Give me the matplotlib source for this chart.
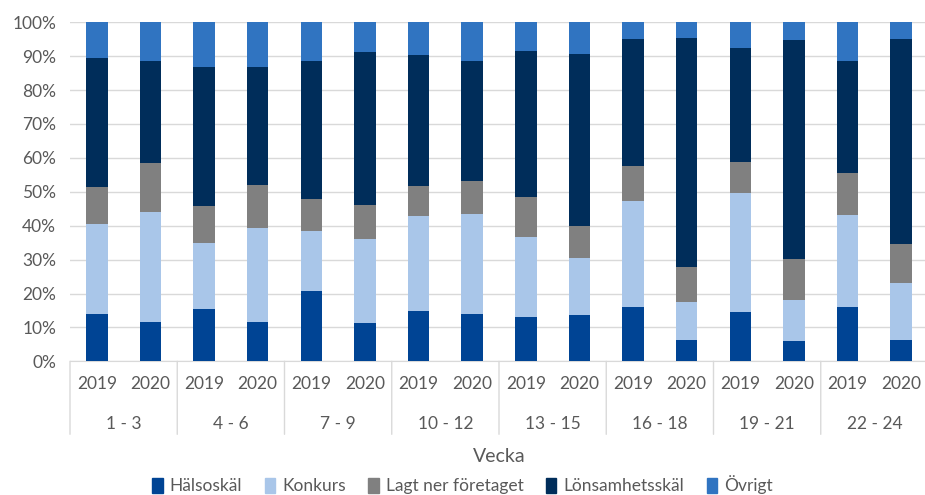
import numpy as np
import matplotlib
matplotlib.use('agg')
import matplotlib.pyplot as plt
from matplotlib.patches import Patch

weeks = ['1 - 3', '4 - 6', '7 - 9', '10 - 12', '13 - 15', '16 - 18', '19 - 21', '22 - 24']
years = ['2019', '2020']
series = ['Hälsoskäl', 'Konkurs', 'Lagt ner företaget', 'Lönsamhetsskäl', 'Övrigt']

# shares in %, bars in order 1-3/2019, 1-3/2020, 4-6/2019 ...
halsoskal = [14.0, 11.5, 15.4, 11.5, 20.8, 11.2, 14.8, 14.0, 13.1, 13.7, 16.1, 6.4, 14.6, 6.1, 16.1, 6.4]
konkurs = [26.5, 32.6, 19.4, 27.7, 17.5, 24.8, 28.1, 29.5, 23.7, 16.8, 31.3, 11.1, 35.0, 12.1, 27.2, 16.8]
lagt_ner = [10.8, 14.5, 11.1, 12.8, 9.7, 10.2, 8.7, 9.6, 11.8, 9.3, 10.3, 10.2, 9.2, 12.0, 12.3, 11.5]
lonsamhet = [38.1, 30.1, 41.0, 34.9, 40.5, 45.0, 38.7, 35.4, 42.9, 50.9, 37.4, 67.8, 33.6, 64.6, 32.9, 60.4]
ovrigt = [10.6, 11.3, 13.1, 13.1, 11.5, 8.8, 9.7, 11.5, 8.5, 9.3, 4.9, 4.5, 7.6, 5.2, 11.5, 4.9]

colors = ['#004494', '#A9C6E9', '#808080', '#002D5A', '#3074C1']
txt = '#595959'

plt.rcParams['font.family'] = ['Lato', 'DejaVu Sans']

fig = plt.figure(figsize=(9.25, 4.95), dpi=100)
ax = fig.add_axes([70 / 925, (495 - 361.3) / 495, 858 / 925, 339 / 495])

x = np.arange(len(halsoskal))
bottom = np.zeros(len(x))
for vals, col in zip([halsoskal, konkurs, lagt_ner, lonsamhet, ovrigt], colors):
    ax.bar(x, vals, bottom=bottom, width=0.4, color=col, zorder=3)
    bottom += np.array(vals)

ax.set_xlim(-0.5, len(x) - 0.5)
ax.set_ylim(0, 100)
ax.set_yticks(np.arange(0, 101, 10))
ax.set_yticklabels([f'{v}%' for v in range(0, 101, 10)], color=txt, fontsize=12.5)
ax.tick_params(axis='y', length=0, pad=10)
ax.set_xticks([])
ax.grid(axis='y', color='#D9D9D9', linewidth=1, zorder=0)
for s in ['top', 'right', 'left']:
    ax.spines[s].set_visible(False)
ax.spines['bottom'].set_color('#D9D9D9')

# two-level category axis
for i in x:
    ax.annotate(years[i % 2], (i, 0), xycoords=('data', 'axes fraction'),
                xytext=(0, -23), textcoords='offset pixels',
                ha='center', va='center', color=txt, fontsize=12.5)
for g, w in enumerate(weeks):
    ax.annotate(w, (2 * g + 0.5, 0), xycoords=('data', 'axes fraction'),
                xytext=(0, -63), textcoords='offset pixels',
                ha='center', va='center', color=txt, fontsize=12.5)
for b in np.arange(-0.5, len(x), 2):
    ax.annotate('', (b, 0), xycoords=('data', 'axes fraction'),
                xytext=(b, -73 / 339), textcoords=('data', 'axes fraction'),
                arrowprops=dict(arrowstyle='-', color='#D9D9D9', lw=1,
                                shrinkA=0, shrinkB=0))

ax.annotate('Vecka', (0.5, 0), xycoords='axes fraction',
            xytext=(0, -95), textcoords='offset pixels',
            ha='center', va='center', color=txt, fontsize=14)

handles = [Patch(color=c) for c in colors]
fig.legend(handles, series, loc='center', bbox_to_anchor=(0.5, 1 - 485 / 495),
           ncol=5, frameon=False, handlelength=0.6, handleheight=0.9,
           handletextpad=0.4, columnspacing=1.3, fontsize=12.5, labelcolor=txt)

fig.savefig('out.png', dpi=100)
